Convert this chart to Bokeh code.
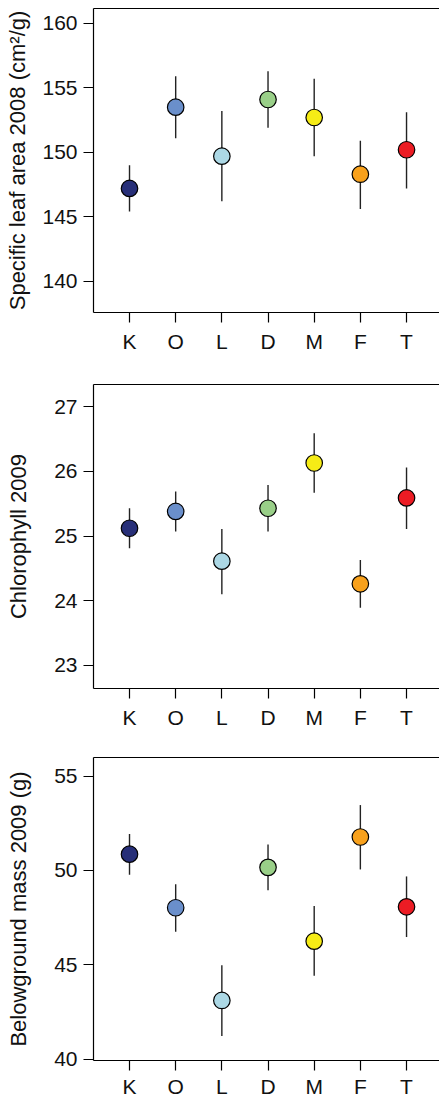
from bokeh.plotting import figure
from bokeh.layouts import column
from bokeh.models import Range1d, FixedTicker, LinearAxis
from bokeh.embed import file_html
from bokeh.resources import INLINE

groups = ["K", "O", "L", "D", "M", "F", "T"]
colors = ["#272f78", "#6a8fcb", "#acd8e5", "#99cf88", "#f6ec16", "#f8a11c", "#ec1c24"]

sla_mean = [147.2, 153.5, 149.7, 154.1, 152.7, 148.3, 150.2]
sla_low = [145.4, 151.1, 146.2, 151.9, 149.7, 145.6, 147.2]
sla_high = [149.0, 155.9, 153.2, 156.3, 155.7, 150.9, 153.1]

chl_mean = [25.12, 25.38, 24.61, 25.43, 26.13, 24.26, 25.59]
chl_low = [24.81, 25.07, 24.10, 25.07, 25.67, 23.89, 25.11]
chl_high = [25.43, 25.69, 25.11, 25.79, 26.59, 24.63, 26.06]

bgm_mean = [50.86, 48.02, 43.11, 50.16, 46.25, 51.77, 48.07]
bgm_low = [49.77, 46.75, 41.23, 48.95, 44.42, 50.05, 46.47]
bgm_high = [51.93, 49.26, 44.98, 51.37, 48.11, 53.46, 49.68]

sla_ticks = [140, 145, 150, 155, 160]
chl_ticks = [23, 24, 25, 26, 27]
bgm_ticks = [40, 45, 50, 55]

FONT = "Liberation Sans"
TXT = "#111111"


def panel(mean, low, high, yr, yticks, label, height, top, bottom, lab_standoff, x_standoff):
    xs = [i + 1 for i in range(len(groups))]
    p = figure(width=439, height=height, x_range=Range1d(0.22, 7.714), y_range=Range1d(*yr),
               output_backend="svg", toolbar_location=None,
               min_border_left=93, min_border_right=0, min_border_top=top, min_border_bottom=bottom,
               x_axis_location=None, y_axis_location=None)
    p.grid.visible = False
    p.outline_line_color = None
    p.background_fill_color = "white"
    p.border_fill_color = "white"

    yax = LinearAxis(ticker=FixedTicker(ticks=yticks), axis_label=label)
    xax = LinearAxis(ticker=FixedTicker(ticks=xs),
                     major_label_overrides={x: g for x, g in zip(xs, groups)})
    tax = LinearAxis(ticker=FixedTicker(ticks=[]), major_label_text_font_size="0px")
    for ax in (yax, xax, tax):
        ax.axis_line_color = "black"
        ax.axis_line_width = 1.2
        ax.major_tick_line_color = "black"
        ax.major_tick_line_width = 1.2
        ax.major_tick_in = 0
        ax.major_tick_out = 10
        ax.minor_tick_line_color = None
        ax.major_label_text_font = FONT
        ax.major_label_text_color = TXT
        ax.axis_label_text_font = FONT
        ax.axis_label_text_color = TXT
        ax.axis_label_text_font_style = "normal"
    yax.major_label_text_font_size = "21px"
    yax.major_label_standoff = 6
    yax.axis_label_text_font_size = "22px"
    yax.axis_label_standoff = lab_standoff
    xax.major_label_text_font_size = "21px"
    xax.major_label_standoff = x_standoff
    tax.major_tick_out = 0
    tax.major_label_standoff = 0
    p.add_layout(yax, "left")
    p.add_layout(xax, "below")
    p.add_layout(tax, "above")

    p.segment(x0=xs, y0=low, x1=xs, y1=high, line_color="#222222", line_width=1.4)
    p.scatter(x=xs, y=mean, size=16.5, fill_color=colors, line_color="black", line_width=1.2)
    return p


p1 = panel(sla_mean, sla_low, sla_high, (137.57, 161.16), sla_ticks,
           "Specific leaf area 2008 (cm²/g)", 370, 8, 58, 9, 7)
p2 = panel(chl_mean, chl_low, chl_high, (22.64, 27.345), chl_ticks,
           "Chlorophyll 2009", 370, 14, 52, 20, 7)
p3 = panel(bgm_mean, bgm_low, bgm_high, (39.93, 55.98), bgm_ticks,
           "Belowground mass 2009 (g)", 360, 17, 38, 20, 4)

layout = column(p1, p2, p3, spacing=0)
open("out.html", "w").write(file_html(layout, INLINE))
